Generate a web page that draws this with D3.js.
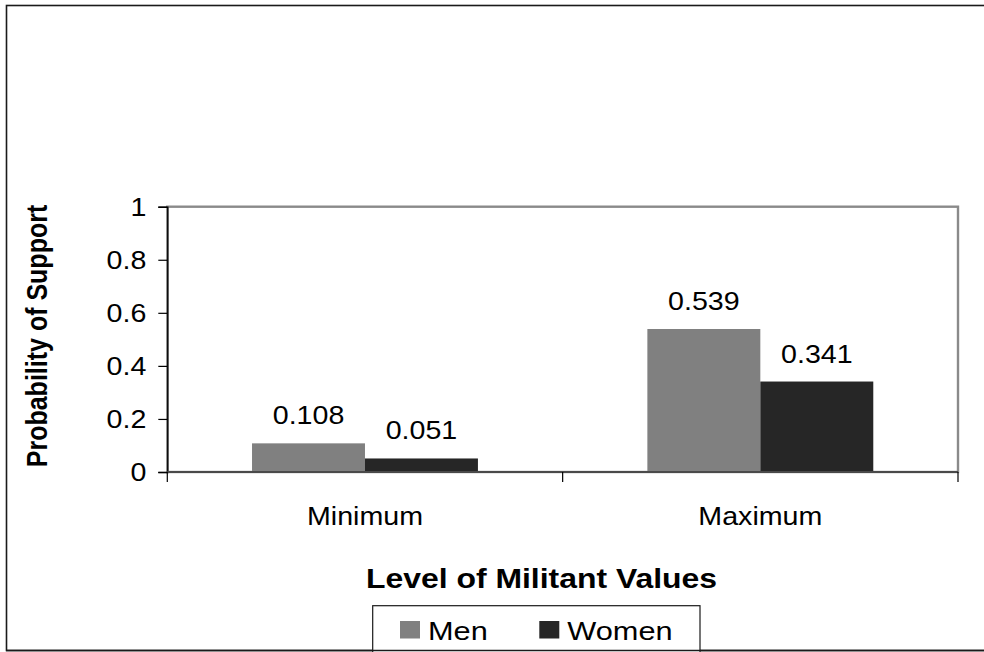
<!DOCTYPE html>
<html>
<head>
<meta charset="utf-8">
<script src="https://cdn.jsdelivr.net/npm/d3@7"></script>
<style>
  html, body { margin: 0; padding: 0; background: #fff; }
  svg { display: block; }
  text { font-family: "Liberation Sans", Arial, Helvetica, sans-serif; fill: #000; }
</style>
</head>
<body>
<svg id="chart" width="984" height="652"></svg>
<script>
// Data
const categories = ["Minimum", "Maximum"];
const seriesNames = ["Men", "Women"];
const menValues = [0.108, 0.539];
const womenValues = [0.051, 0.341];
const yTicks = [0, 0.2, 0.4, 0.6, 0.8, 1];
const xTitle = "Level of Militant Values";
const yTitle = "Probability of Support";

const seriesValues = [menValues, womenValues];
const colors = ["#808080", "#262626"];
const SX = 1.1; // horizontal widening of the lettering

const svg = d3.select("#chart");

// outer chart border
svg.append("rect")
  .attr("x", 6.5).attr("y", 5.5)
  .attr("width", 1000).attr("height", 645)
  .attr("fill", "none").attr("stroke", "#1a1a1a").attr("stroke-width", 1.6);

const plot = { left: 167.3, right: 958, top: 206.7, bottom: 472 };

const x = d3.scaleBand()
  .domain(categories)
  .range([plot.left, plot.right])
  .paddingInner(1.5 / 3.5)
  .paddingOuter(0.75 / 3.5);

const xs = d3.scaleBand()
  .domain(seriesNames)
  .range([0, x.bandwidth()])
  .padding(0);

const y = d3.scaleLinear().domain([0, 1]).range([plot.bottom, plot.top]);

function stretch(sel, sx) {
  sel.each(function () {
    const t = d3.select(this);
    const tx = +t.attr("x") || 0;
    const ty = +t.attr("y") || 0;
    t.attr("x", 0).attr("y", 0)
     .attr("transform", `translate(${tx},${ty}) scale(${sx},1)`);
  });
}

// plot area frame (grey)
svg.append("rect")
  .attr("x", plot.left).attr("y", plot.top)
  .attr("width", plot.right - plot.left)
  .attr("height", plot.bottom - plot.top)
  .attr("fill", "none").attr("stroke", "#8a8a8a").attr("stroke-width", 2.4);

// bars
const groups = svg.append("g").selectAll("g")
  .data(categories)
  .join("g")
  .attr("transform", d => `translate(${x(d)},0)`);

groups.selectAll("rect")
  .data((c, i) => seriesNames.map((s, j) => ({ s, j, v: seriesValues[j][i] })))
  .join("rect")
  .attr("x", d => xs(d.s))
  .attr("y", d => y(d.v))
  .attr("width", xs.bandwidth())
  .attr("height", d => y(0) - y(d.v))
  .attr("fill", d => colors[d.j]);

// value labels
const vlabels = groups.selectAll("text.val")
  .data((c, i) => seriesNames.map((s, j) => ({ s, j, v: seriesValues[j][i] })))
  .join("text")
  .attr("class", "val")
  .attr("x", d => xs(d.s) + xs.bandwidth() / 2)
  .attr("y", d => y(d.v) - 19)
  .attr("text-anchor", "middle")
  .attr("font-size", 26)
  .text(d => d3.format(".3f")(d.v));
stretch(vlabels, SX);

// y axis
const yAxis = svg.append("g")
  .attr("transform", `translate(${plot.left},0)`)
  .call(d3.axisLeft(y).tickValues(yTicks).tickSize(9).tickPadding(12)
    .tickFormat(d3.format("~g")));
yAxis.select(".domain").attr("stroke", "#000").attr("stroke-width", 1.4);
yAxis.selectAll(".tick line").attr("stroke", "#000").attr("stroke-width", 1.2);
yAxis.selectAll(".tick text")
  .attr("font-size", 26).attr("font-family", null).attr("fill", "#000");
stretch(yAxis.selectAll(".tick text"), SX);

// x axis baseline
svg.append("line")
  .attr("x1", plot.left).attr("x2", plot.right)
  .attr("y1", y(0)).attr("y2", y(0))
  .attr("stroke", "#4a4a4a").attr("stroke-width", 2);

// category separators
const edges = [plot.left, ...categories.slice(1).map(c => x(c) - x.step() * x.paddingInner() / 2), plot.right];
svg.append("g").selectAll("line")
  .data(edges)
  .join("line")
  .attr("x1", d => d).attr("x2", d => d)
  .attr("y1", y(0)).attr("y2", y(0) + 10)
  .attr("stroke", "#000").attr("stroke-width", 1.2);

// category labels
const xAxis = svg.append("g")
  .attr("transform", `translate(0,${y(0)})`)
  .call(d3.axisBottom(x).tickSize(0).tickPadding(0));
xAxis.select(".domain").remove();
xAxis.selectAll(".tick text")
  .attr("font-size", 26).attr("font-family", null).attr("fill", "#000")
  .attr("dy", null).attr("y", 53);
stretch(xAxis.selectAll(".tick text"), SX);

// axis titles
const xt = svg.append("text")
  .attr("x", 541.5).attr("y", 588)
  .attr("text-anchor", "middle")
  .attr("font-size", 28).attr("font-weight", "bold")
  .text(xTitle);
stretch(xt, 1.14);

svg.append("text")
  .attr("transform", `translate(47,336) rotate(-90) scale(1,1.2)`)
  .attr("text-anchor", "middle")
  .attr("font-size", 25).attr("font-weight", "bold")
  .text(yTitle);

// legend
const legend = svg.append("g");
legend.append("rect")
  .attr("x", 372.7).attr("y", 605.7)
  .attr("width", 327.3).attr("height", 60)
  .attr("fill", "#fff").attr("stroke", "#1a1a1a").attr("stroke-width", 1.2);
const swatchX = [400, 539.3];
const items = legend.selectAll("g.item")
  .data(seriesNames)
  .join("g").attr("class", "item");
items.append("rect")
  .attr("x", (d, i) => swatchX[i]).attr("y", 621)
  .attr("width", 20).attr("height", 17.5)
  .attr("fill", (d, i) => colors[i]);
const ltext = items.append("text")
  .attr("x", (d, i) => swatchX[i] + 28).attr("y", 639.5)
  .attr("font-size", 26.5)
  .text(d => d);
stretch(ltext, 1.16);

// outer border bottom edge, drawn over the legend box
svg.append("line")
  .attr("x1", 6).attr("x2", 984).attr("y1", 650.5).attr("y2", 650.5)
  .attr("stroke", "#1a1a1a").attr("stroke-width", 1.6);
</script>
</body>
</html>
